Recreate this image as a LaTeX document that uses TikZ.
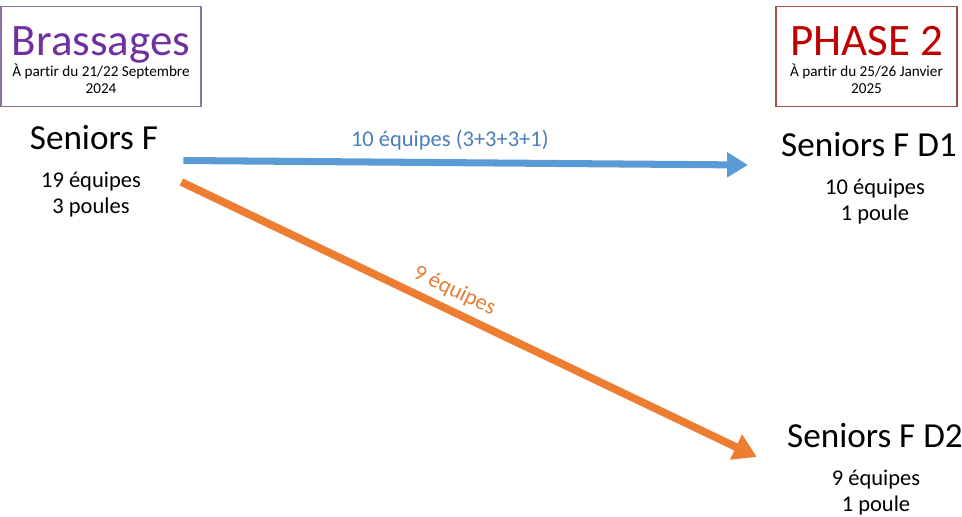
\documentclass[tikz,border=0pt]{standalone}
\usepackage{fontspec}
\setmainfont{Carlito}[Ligatures={NoCommon,NoContextual}]
\usetikzlibrary{arrows.meta,positioning,calc}
\definecolor{brassviolet}{RGB}{112,48,160}
\definecolor{brassline}{RGB}{140,112,170}
\definecolor{phasered}{RGB}{192,0,0}
\definecolor{phaseline}{RGB}{165,75,75}
\definecolor{arrblue}{RGB}{91,155,213}
\definecolor{txtblue}{RGB}{74,126,187}
\definecolor{arrorange}{RGB}{237,125,49}
\definecolor{txtorange}{RGB}{230,125,55}
\tikzset{
  hdrbox/.style={draw, line width=0.9pt, minimum height=2.5cm, inner sep=0pt},
  hdrttl/.style={anchor=base, inner sep=0pt, font=\fontsize{32}{38}\selectfont},
  hdrsub/.style={anchor=base, inner sep=0pt, font=\fontsize{10.8}{13}\selectfont},
  cat/.style={anchor=base, inner sep=0pt, font=\fontsize{25}{30}\selectfont},
  info/.style={anchor=base, inner sep=0pt, font=\fontsize{16}{19}\selectfont},
  flowblue/.style={-{Triangle[length=5.2mm, width=6mm]}, arrblue, line width=5pt},
  floworange/.style={-{Triangle[length=5.8mm, width=6.6mm]}, arrorange, line width=5.5pt},
  lblblue/.style={inner sep=0pt, text=txtblue, font=\fontsize{16}{19}\selectfont},
  lblorange/.style={inner sep=0pt, text=txtorange, font=\fontsize{16}{19}\selectfont},
}
\begin{document}
\begin{tikzpicture}[x=0.025cm, y=-0.025cm]
  \useasboundingbox (0,0) rectangle (962,516);
  % phase boxes
  \foreach \nm/\cx/\bw/\bcol/\tcol/\ttl/\dte/\yr in {brass/101/5.0/brassline/brassviolet/Brassages/{21/22 Septembre}/2024,
                                                 phase/866.5/4.525/phaseline/phasered/{PHASE 2}/{25/26 Janvier}/2025}{
    \node[hdrbox, draw=\bcol, minimum width=\bw cm] (\nm-box) at (\cx,56.5) {};
    \node[hdrttl, text=\tcol] (\nm-ttl) at (\cx,55) {\ttl};
    \node[hdrsub] (\nm-date) at (\cx,76) {À partir du \dte};
    \node[hdrsub] (\nm-year) at (\cx,93) {\yr};
  }
  % categories
  \foreach \nm/\cx/\ix/\cy/\cat/\nb/\pl in {srcF/94/91/149/{Seniors F}/19/{3 poules},
                                         d1/869/875/156/{Seniors F D1}/10/{1 poule},
                                         d2/875/876/447/{Seniors F D2}/9/{1 poule}}{
    \node[cat] (\nm) at (\cx,\cy) {\cat};
    \node[info] (\nm-nb) at (\ix,\cy+38) {\nb\ équipes};
    \node[info] (\nm-pl) at (\ix,\cy+64) {\pl};
  }
  % flows
  \draw[flowblue] ($(srcF.base east)+(25,11.5)$)
    -- node[lblblue, pos=0.472, above=0.22cm] (lbl-d1) {10 équipes (3+3+3+1)}
    ($(d1.base west)+(-33,9)$);
  \draw[floworange] ($(srcF.base east)+(23,33)$)
    -- node[lblorange, pos=0.46, sloped, above=0.15cm] (lbl-d2) {9 équipes}
    ($(d2.base west)+(-30,10)$);
\end{tikzpicture}
\end{document}
